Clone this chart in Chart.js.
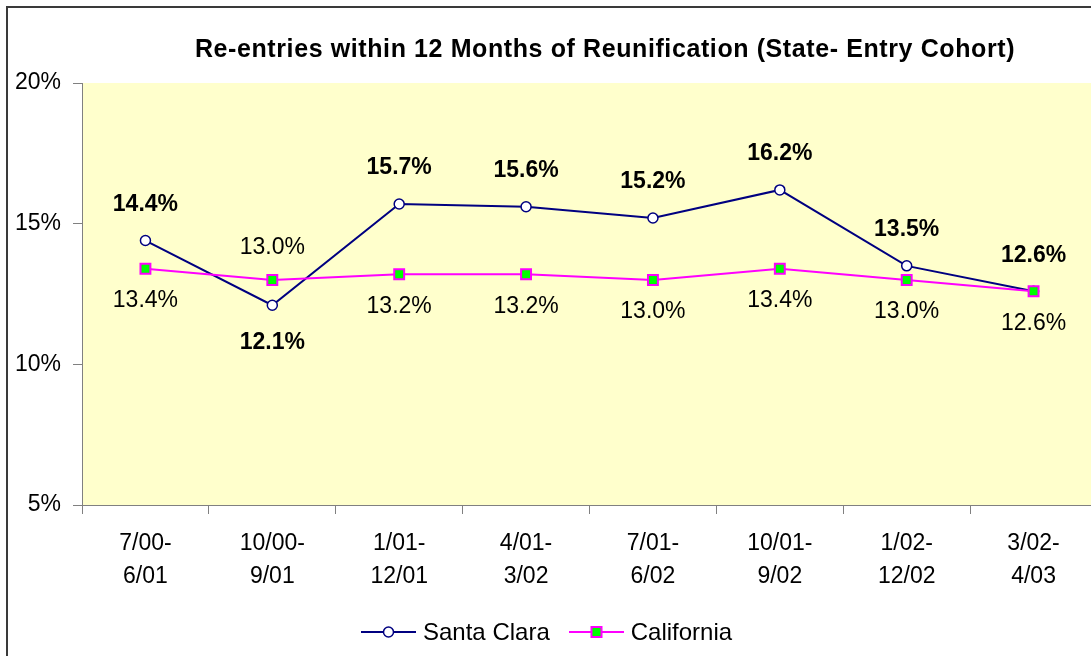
<!DOCTYPE html>
<html>
<head>
<meta charset="utf-8">
<title>Re-entries within 12 Months of Reunification</title>
<script src="https://cdn.jsdelivr.net/npm/chart.js@4/dist/chart.umd.min.js"></script>
<style>
  html, body { margin: 0; padding: 0; background: #fff; overflow: hidden; }
  #wrap { position: relative; width: 1091px; height: 656px; overflow: hidden; }
  #frame { position: absolute; left: 6px; top: 6px; width: 1200px; height: 700px;
           border-left: 2px solid #3a3a3a; border-top: 2px solid #3a3a3a; }
  #chart { position: absolute; left: 0; top: 0; }
  #legend { position: absolute; left: 361px; top: 617px; display: flex; align-items: center;
            font: 24px "Liberation Sans", Arial, sans-serif; color: #000; line-height: 30px; }
  .item { display: flex; align-items: center; }
  .item + .item { margin-left: 19px; }
  .item svg { margin-right: 7px; }
</style>
</head>
<body>
<div id="wrap">
  <div id="frame"></div>
  <canvas id="chart" width="1106" height="656"></canvas>
  <div id="legend">
    <div class="item">
      <svg width="55" height="16"><line x1="0" y1="8" x2="55" y2="8" stroke="#000080" stroke-width="2"/><circle cx="27.5" cy="8" r="5" fill="#fff" stroke="#000080" stroke-width="1.5"/></svg>
      <span>Santa Clara</span>
    </div>
    <div class="item">
      <svg width="55" height="16"><line x1="0" y1="8" x2="55" y2="8" stroke="#ff00ff" stroke-width="2"/><rect x="22.5" y="3" width="10" height="10" fill="#00ff00" stroke="#ff00ff" stroke-width="2"/></svg>
      <span>California</span>
    </div>
  </div>
</div>
<script>
(function () {
  const titleText = 'Re-entries within 12 Months of Reunification (State- Entry Cohort)';
  const categories = [
    ['7/00-', '6/01'], ['10/00-', '9/01'], ['1/01-', '12/01'], ['4/01-', '3/02'],
    ['7/01-', '6/02'], ['10/01-', '9/02'], ['1/02-', '12/02'], ['3/02-', '4/03'],
  ];
  const santaClara = [14.4, 12.1, 15.7, 15.6, 15.2, 16.2, 13.5, 12.6];
  const california = [13.4, 13.0, 13.2, 13.2, 13.0, 13.4, 13.0, 12.6];
  const yTicks = [5, 10, 15, 20];

  const FONT = '"Liberation Sans", Arial, sans-serif';

  // pale yellow plot background
  const plotBackground = {
    id: 'plotBackground',
    beforeDraw(chart) {
      const { ctx, chartArea: a } = chart;
      ctx.save();
      ctx.fillStyle = '#ffffcc';
      ctx.fillRect(a.left, a.top, a.right - a.left, a.bottom - a.top);
      ctx.restore();
    },
  };

  const chartTitle = {
    id: 'chartTitle',
    afterDraw(chart) {
      const ctx = chart.ctx;
      ctx.save();
      ctx.font = 'bold 25px ' + FONT;
      if ('letterSpacing' in ctx) ctx.letterSpacing = '0.6px';
      ctx.fillStyle = '#000';
      ctx.textAlign = 'center';
      ctx.textBaseline = 'alphabetic';
      ctx.fillText(titleText, 605, 57);
      ctx.restore();
    },
  };

  // value labels: the higher series is labelled above, the other below
  const valueLabels = {
    id: 'valueLabels',
    afterDatasetsDraw(chart) {
      const ctx = chart.ctx;
      const sets = chart.data.datasets;
      ctx.save();
      ctx.fillStyle = '#000';
      ctx.textAlign = 'center';
      ctx.textBaseline = 'middle';
      sets.forEach((ds, i) => {
        const meta = chart.getDatasetMeta(i);
        const other = sets[1 - i].data;
        const isSC = ds.label === 'Santa Clara';
        ctx.font = (isSC ? 'bold ' : '') + '23px ' + FONT;
        meta.data.forEach((pt, j) => {
          const v = ds.data[j];
          const above = isSC ? v >= other[j] : v > other[j];
          const dy = isSC ? (above ? -36 : 37) : (above ? -32 : 32);
          ctx.fillText(v.toFixed(1) + '%', pt.x, pt.y + dy);
        });
      });
      ctx.restore();
    },
  };

  new Chart(document.getElementById('chart'), {
    type: 'line',
    data: {
      labels: categories,
      datasets: [
        {
          label: 'California',
          data: california,
          order: 0,
          borderColor: '#ff00ff',
          borderWidth: 2,
          pointStyle: 'rect',
          pointRadius: 7,
          pointBackgroundColor: '#00ff00',
          pointBorderColor: '#ff00ff',
          pointBorderWidth: 2,
          tension: 0,
        },
        {
          label: 'Santa Clara',
          data: santaClara,
          order: 1,
          borderColor: '#000080',
          borderWidth: 2,
          pointStyle: 'circle',
          pointRadius: 5,
          pointBackgroundColor: '#ffffff',
          pointBorderColor: '#000080',
          pointBorderWidth: 1.5,
          tension: 0,
        },
      ],
    },
    options: {
      responsive: false,
      animation: false,
      devicePixelRatio: 1,
      layout: { padding: { top: 83, right: 3, left: 0, bottom: 0 } },
      plugins: {
        legend: { display: false },
        title: { display: false },
        tooltip: { enabled: false },
      },
      scales: {
        x: {
          type: 'category',
          offset: true,
          afterFit: (axis) => { axis.height = 151; },
          grid: { offset: true, drawOnChartArea: false, color: '#808080', tickLength: 9 },
          border: { color: '#808080', width: 1 },
          ticks: {
            color: '#000',
            autoSkip: false,
            maxRotation: 0,
            padding: 13,
            font: { family: FONT, size: 23, lineHeight: 1.43 },
          },
        },
        y: {
          min: 5,
          max: 20,
          afterFit: (axis) => { axis.width = 82; },
          afterBuildTicks: (axis) => { axis.ticks = yTicks.map((v) => ({ value: v })); },
          grid: { drawOnChartArea: false, color: '#808080', tickLength: 9 },
          border: { color: '#808080', width: 1 },
          ticks: {
            color: '#000',
            padding: 12,
            font: { family: FONT, size: 23 },
            callback: (value) => value + '%',
          },
        },
      },
    },
    plugins: [plotBackground, chartTitle, valueLabels],
  });
})();
</script>
</body>
</html>
